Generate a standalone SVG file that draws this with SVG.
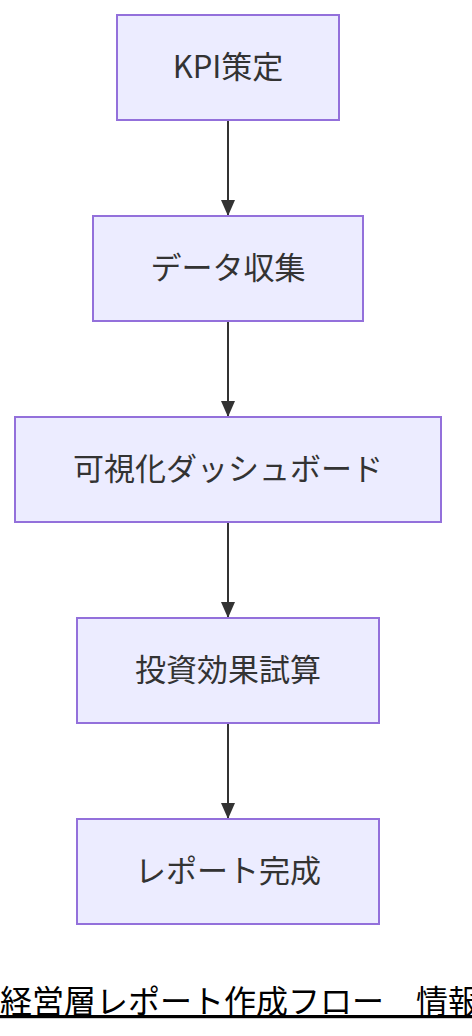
<svg xmlns="http://www.w3.org/2000/svg" width="472" height="1036" viewBox="0 0 472 1036">
<style>
.node rect{fill:#ECECFF;stroke:#9370DB;stroke-width:2}
.node text{font-family:"Noto Sans CJK JP","Noto Sans",sans-serif;font-size:31px;fill:#333;text-anchor:middle;dominant-baseline:central}
.edge{stroke:#333;stroke-width:2;fill:none}
.title{font-family:"Noto Sans CJK JP",sans-serif;font-size:32px;fill:#000;text-decoration:underline}
</style>
<defs>
<marker id="arrow" viewBox="0 0 16 14" refX="16" refY="7" markerWidth="16" markerHeight="14" markerUnits="userSpaceOnUse" orient="auto">
<path d="M0,0 L16,7 L0,14 Z" fill="#333"/>
</marker>
</defs>
<rect width="472" height="1036" fill="#fff"/>
<g id="edges">
<line class="edge" x1="228" y1="120" x2="228" y2="216" marker-end="url(#arrow)"/>
<line class="edge" x1="228" y1="321" x2="228" y2="417" marker-end="url(#arrow)"/>
<line class="edge" x1="228" y1="522" x2="228" y2="618" marker-end="url(#arrow)"/>
<line class="edge" x1="228" y1="723" x2="228" y2="819" marker-end="url(#arrow)"/>
</g>
<g id="n1" class="node"><rect x="117" y="15" width="222" height="105"/><text x="228" y="64">KPI策定</text></g>
<g id="n2" class="node"><rect x="93" y="216" width="270" height="105"/><text x="228" y="265">データ収集</text></g>
<g id="n3" class="node"><rect x="15" y="417" width="426" height="105"/><text x="228" y="466">可視化ダッシュボード</text></g>
<g id="n4" class="node"><rect x="77" y="618" width="302" height="105"/><text x="228" y="667">投資効果試算</text></g>
<g id="n5" class="node"><rect x="77" y="819" width="302" height="105"/><text x="228" y="868">レポート完成</text></g>
<text class="title" x="0" y="1013">経営層レポート作成フロー　情報</text>
</svg>
